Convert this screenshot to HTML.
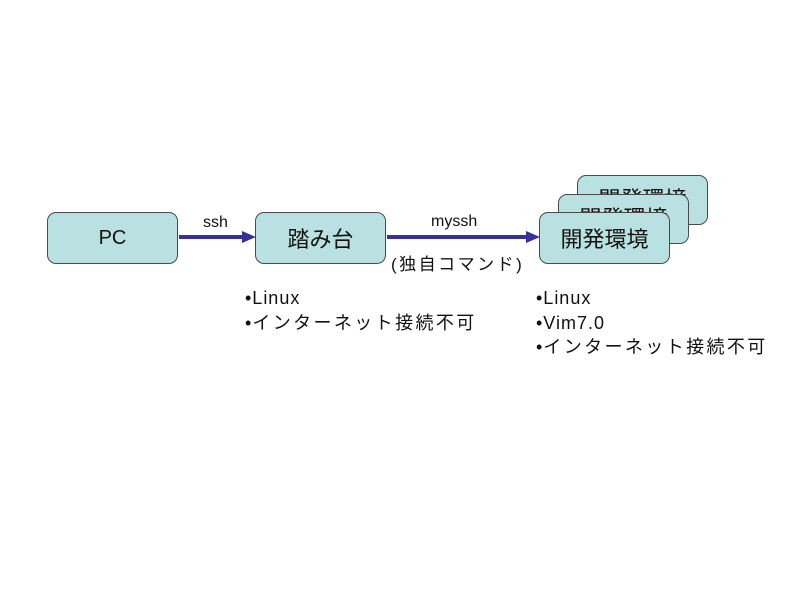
<!DOCTYPE html>
<html><head><meta charset="utf-8"><style>
body{margin:0;width:800px;height:600px;background:#fff;position:relative;font-family:"Liberation Sans","Noto Sans CJK JP",sans-serif;overflow:hidden}
.b{position:absolute;width:131px;height:50px;background:#b9e1e1;border:1.5px solid #4a4a4a;border-radius:9px;box-sizing:border-box;display:flex;align-items:center;justify-content:center;font-size:22px;color:#111}
.t{position:absolute;font-size:16px;color:#111;white-space:nowrap}
.l{position:absolute;font-size:18px;color:#111;line-height:24.5px;white-space:nowrap;letter-spacing:1px}
.j{letter-spacing:2.4px}
</style></head><body>
<div class="b" style="left:577px;top:175px;align-items:flex-start;padding-top:6px">開発環境</div>
<div class="b" style="left:558px;top:194px;align-items:flex-start;padding-top:6px">開発環境</div>
<div class="b" style="left:539px;top:212px;height:52px">開発環境</div>
<div class="b" style="left:47px;top:212px;height:52px;font-size:20px">PC</div>
<div class="b" style="left:255px;top:212px;height:52px">踏み台</div>
<svg style="position:absolute;left:0;top:0" width="800" height="600">
<line x1="179" y1="237" x2="243" y2="237" stroke="#35309c" stroke-width="4"/>
<polygon points="242,231 256,237 242,243" fill="#35309c"/>
<line x1="387" y1="237" x2="527" y2="237" stroke="#35309c" stroke-width="4"/>
<polygon points="526,231 540,237 526,243" fill="#35309c"/>
</svg>
<div class="t" style="left:203px;top:214px">ssh</div>
<div class="t" style="left:431px;top:213px">myssh</div>
<div class="t" style="left:391px;top:250px;font-size:17px;letter-spacing:2.5px">(独自コマンド)</div>
<div class="l" style="left:245px;top:286px">•Linux<br>•<span class="j">インターネット接続不可</span></div>
<div class="l" style="left:536px;top:286px">•Linux<br>•Vim7.0<br>•<span class="j">インターネット接続不可</span></div>
</body></html>
